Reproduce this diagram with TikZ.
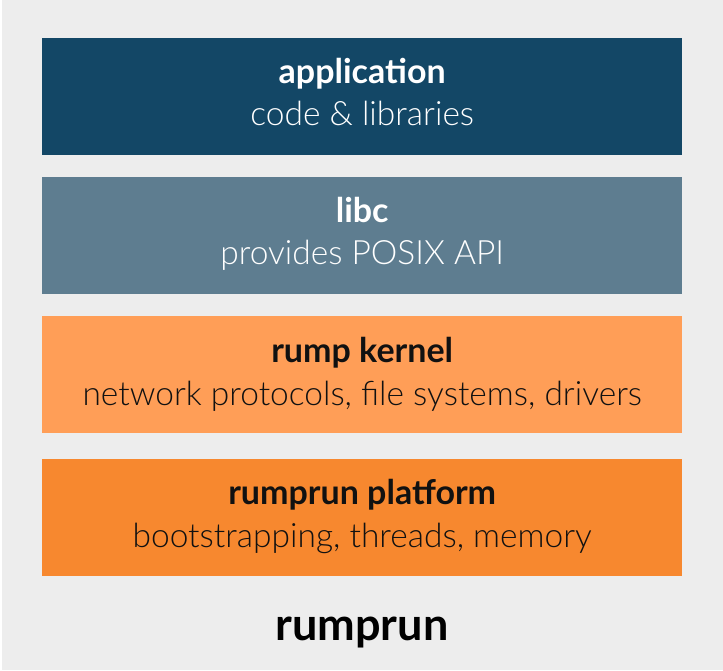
\documentclass[tikz,border=0pt]{standalone}
\usepackage{fontspec}
\setmainfont{Lato}
\newfontfamily\lightfont{Lato}[UprightFont=* Light, BoldFont=* Bold]
\definecolor{bgc}{HTML}{EDEDED}
\definecolor{appc}{HTML}{134766}
\definecolor{libcc}{HTML}{5E7D90}
\definecolor{rumpc}{HTML}{FF9E57}
\definecolor{platc}{HTML}{F7882F}
\definecolor{txtd}{HTML}{111111}
\tikzset{
  layer/.style={draw=none, rectangle, minimum width=640pt, minimum height=117pt, inner sep=0pt, anchor=north west},
  ttl/.style={anchor=base, font=\fontsize{34}{38}\selectfont\bfseries, inner sep=0pt},
  sub/.style={anchor=base, font=\lightfont\fontsize{33.5}{38}\selectfont, inner sep=0pt},
}
\begin{document}
\begin{tikzpicture}[x=1pt,y=-1pt]
\useasboundingbox (0,0) rectangle (723,670);
\fill[bgc] (0,0) rectangle (723,670);
\fill[white] (0,0) rectangle (2,670);
\node[layer, fill=appc] (app) at (42,38) {};
\node[layer, fill=libcc] (libc) at (42,177) {};
\node[layer, fill=rumpc] (rump) at (42,316) {};
\node[layer, fill=platc] (plat) at (42,459) {};
\node[ttl, text=white] (appt) at ([yshift=-45pt]app.north) {application};
\node[sub, text=white] (apps) at ([yshift=-87pt]app.north) {code \& libraries};
\node[ttl, text=white] (libct) at ([yshift=-45pt]libc.north) {libc};
\node[sub, text=white] (libcs) at ([yshift=-87pt]libc.north) {provides POSIX API};
\node[ttl, text=txtd] (rumpt) at ([yshift=-46pt]rump.north) {rump kernel};
\node[sub, text=txtd] (rumps) at ([yshift=-89pt]rump.north) {network protocols, file systems, drivers};
\node[ttl, text=txtd] (platt) at ([yshift=-45pt]plat.north) {rumprun platform};
\node[sub, text=txtd] (plats) at ([yshift=-88pt]plat.north) {bootstrapping, threads, memory};
\node[anchor=base, inner sep=0pt, font=\fontsize{45}{50}\selectfont\bfseries, text=black] (rr) at (362,640) {rumprun};
\end{tikzpicture}
\end{document}
